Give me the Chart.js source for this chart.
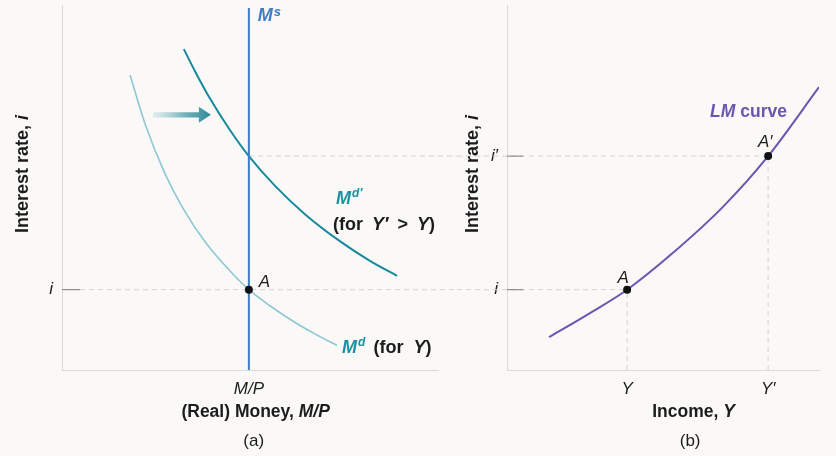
<!DOCTYPE html>
<html>
<head>
<meta charset="utf-8">
<script src="https://cdn.jsdelivr.net/npm/chart.js@4.4.1/dist/chart.umd.min.js"></script>
<style>
    html, body { margin: 0; padding: 0; background: #faf9f7; }
    #wrap { position: relative; width: 836px; height: 456px; }
    #wrap canvas { position: absolute; left: 0; top: 0; }
</style>
</head>
<body>
<div id="wrap">
    <canvas id="moneyChart" width="836" height="456"></canvas>
    <canvas id="lmChart" width="836" height="456"></canvas>
</div>
<script>
// ── Panel (a): money market ──
const MD_X  = [1.81, 2.21, 2.74, 3.27, 3.80, 4.39, 4.97, 5.53, 6.20, 6.76, 7.31];
const MD_Y  = [8.08, 6.74, 5.38, 4.34, 3.52, 2.80, 2.20, 1.76, 1.30, 0.97, 0.68];
const MD2_X = [3.24, 3.54, 3.94, 4.47, 4.97, 5.66, 6.46, 7.39, 8.19, 8.91];
const MD2_Y = [8.79, 8.18, 7.43, 6.57, 5.86, 5.05, 4.27, 3.53, 2.99, 2.58];
const MS_X = 4.97;
const MS_Y = [0, 9.92];
const I_RATE = 2.2;
const I_PRIME = 5.86;
const LEFT_XTICKS = [4.97];
const LEFT_XLABELS = ['M/P'];
const LEFT_YTICKS = [2.2];
const LEFT_YLABELS = ['i'];
const SHIFT_ARROW = [[2.42, 6.99], [3.96, 6.99]];
const LEFT_GUIDE_END = 10.5;
const LEFT_TICK_END = 0.48;

// ── Panel (b): LM curve ──
const LM_X = [1.35, 2.66, 3.85, 5.32, 6.92, 8.37, 10.0];
const LM_Y = [0.90, 1.56, 2.20, 3.21, 4.47, 5.86, 7.75];
const INCOME_TICKS = [3.85, 8.37];
const INCOME_LABELS = ['Y', 'Y\u2032'];
const RATE_TICKS = [2.2, 5.86];
const RATE_LABELS = ['i', 'i\u2032'];
const RIGHT_GUIDE_START = -1.6;
const RIGHT_TICK_END = 0.51;

// ── Style ──
const INK = '#1c1c1c';
const AXIS = '#d9d9d9';
const GUIDE = '#d2d2d2';
const TICKMARK = '#7a7a7a';
const BLUE = '#3d7cc8';
const TEAL = '#17899a';
const TEAL_LIGHT = '#8fc6d3';
const TEAL_TEXT = '#1a90a1';
const PURPLE = '#6a55b1';
const FONT = '"Liberation Sans", Arial, Helvetica, sans-serif';
const f = (style, size) => `${style} ${size}px ${FONT}`;

const pts = (xs, ys) => xs.map((x, i) => ({ x, y: ys[i] }));

function rich(ctx, x, y, parts, align) {
    let w = 0;
    parts.forEach(p => {
        if (p.sp) { w += p.sp; return; }
        ctx.font = p.f;
        w += ctx.measureText(p.t).width;
    });
    let cx = align === 'center' ? x - w / 2 : x;
    ctx.textBaseline = 'alphabetic';
    ctx.textAlign = 'left';
    parts.forEach(p => {
        if (p.sp) { cx += p.sp; return; }
        ctx.font = p.f;
        ctx.fillStyle = p.c || INK;
        ctx.fillText(p.t, cx, y + (p.dy || 0));
        cx += ctx.measureText(p.t).width;
    });
}

function vertTitle(ctx, x, y, parts) {
    ctx.save();
    ctx.translate(x, y);
    ctx.rotate(-Math.PI / 2);
    rich(ctx, 0, 0, parts, 'center');
    ctx.restore();
}

function drawArrow(ctx, a, b) {
    const hw = 2.6, hh = 8, hl = 12;
    const g = ctx.createLinearGradient(a[0], 0, b[0], 0);
    g.addColorStop(0, 'rgba(150, 200, 210, 0.25)');
    g.addColorStop(0.55, 'rgba(80, 160, 172, 0.8)');
    g.addColorStop(1, '#2a8a98');
    ctx.fillStyle = g;
    ctx.beginPath();
    ctx.moveTo(a[0], a[1] - hw);
    ctx.lineTo(b[0] - hl, a[1] - hw);
    ctx.lineTo(b[0] - hl, a[1] - hh);
    ctx.lineTo(b[0], a[1]);
    ctx.lineTo(b[0] - hl, a[1] + hh);
    ctx.lineTo(b[0] - hl, a[1] + hw);
    ctx.lineTo(a[0], a[1] + hw);
    ctx.closePath();
    ctx.fill();
}

function axes(xTicks, xLabels, yTicks, yLabels, yWidth) {
    const tickFont = { family: FONT, size: 17, style: 'italic' };
    return {
        x: {
            type: 'linear', min: 0, max: 10,
            grid: { display: false, drawTicks: false },
            border: { display: true, color: AXIS, width: 1 },
            afterBuildTicks: a => { a.ticks = xTicks.map(v => ({ value: v })); },
            afterFit: a => { a.height = 86; a.paddingLeft = 0; a.paddingRight = 0; },
            ticks: { autoSkip: false, maxRotation: 0, padding: 9, color: INK, font: tickFont,
                     callback: (v, i) => xLabels[i] }
        },
        y: {
            type: 'linear', min: 0, max: 10,
            grid: { display: false, drawTicks: false },
            border: { display: true, color: AXIS, width: 1 },
            afterBuildTicks: a => { a.ticks = yTicks.map(v => ({ value: v })); },
            afterFit: a => { a.width = yWidth; a.paddingTop = 0; a.paddingBottom = 0; },
            ticks: { autoSkip: false, padding: 9, color: INK, font: tickFont,
                     callback: (v, i) => yLabels[i] }
        }
    };
}

const line = (data, color, width, extra) => Object.assign({
    data, showLine: true, borderColor: color, borderWidth: width,
    pointRadius: 0, fill: false
}, extra || {});
const dashed = data => line(data, GUIDE, 1, { borderDash: [5, 4], clip: false });

const baseOptions = (padding, scales) => ({
    responsive: false,
    animation: false,
    devicePixelRatio: 1,
    layout: { padding },
    scales,
    plugins: { legend: { display: false }, tooltip: { enabled: false } },
    events: []
});

// ── Panel (a) notes ──
const moneyNotes = {
    id: 'moneyNotes',
    afterDraw(chart) {
        const { ctx, scales: { x, y }, chartArea: ca } = chart;
        const P = (a, b) => [x.getPixelForValue(a), y.getPixelForValue(b)];
        ctx.save();
        drawArrow(ctx, P(...SHIFT_ARROW[0]), P(...SHIFT_ARROW[1]));

        let [px, py] = P(MS_X, MS_Y[1]);
        rich(ctx, px + 9, py + 13, [
            { t: 'M', f: f('italic bold', 18), c: BLUE },
            { sp: 1 },
            { t: 's', f: f('italic bold', 13), c: BLUE, dy: -5 }
        ]);

        [px, py] = P(7.29, 4.55);
        rich(ctx, px, py, [
            { t: 'M', f: f('italic bold', 18), c: TEAL_TEXT },
            { sp: 1 },
            { t: 'd\u2032', f: f('italic bold', 12), c: TEAL_TEXT, dy: -7 }
        ]);
        [px, py] = P(7.21, 3.84);
        rich(ctx, px, py, [
            { t: '(for', f: f('bold', 18) }, { sp: 9 },
            { t: 'Y\u2032', f: f('italic bold', 18) }, { sp: 9 },
            { t: '>', f: f('bold', 18) }, { sp: 9 },
            { t: 'Y', f: f('italic bold', 18) },
            { t: ')', f: f('bold', 18) }
        ]);

        [px, py] = P(7.45, 0.47);
        rich(ctx, px, py, [
            { t: 'M', f: f('italic bold', 18), c: TEAL_TEXT },
            { sp: 1 },
            { t: 'd', f: f('italic bold', 12), c: TEAL_TEXT, dy: -7 },
            { sp: 8 },
            { t: '(for', f: f('bold', 18) }, { sp: 10 },
            { t: 'Y', f: f('italic bold', 18) },
            { t: ')', f: f('bold', 18) }
        ]);

        [px, py] = P(MS_X, I_RATE);
        rich(ctx, px + 10, py - 3, [{ t: 'A', f: f('italic', 17) }]);

        // axis titles and panel letter
        rich(ctx, x.getPixelForValue(5.15), ca.bottom + 47, [
            { t: '(Real) Money, ', f: f('bold', 17.5) },
            { t: 'M/P', f: f('italic bold', 17.5) }
        ], 'center');
        rich(ctx, x.getPixelForValue(5.1), ca.bottom + 76, [{ t: '(a)', f: f('normal', 17) }], 'center');
        vertTitle(ctx, 28, 174, [
            { t: 'Interest rate, ', f: f('bold', 18) },
            { t: 'i', f: f('italic bold', 18) }
        ]);
        ctx.restore();
    }
};

new Chart(document.getElementById('moneyChart'), {
    type: 'scatter',
    data: {
        datasets: [
            { data: [{ x: MS_X, y: I_RATE }], pointRadius: 4, pointBackgroundColor: '#111',
              pointBorderWidth: 0, showLine: false },
            line(pts([MS_X, MS_X], MS_Y), BLUE, 2),
            line(pts(MD2_X, MD2_Y), TEAL, 2, { cubicInterpolationMode: 'monotone' }),
            line(pts(MD_X, MD_Y), TEAL_LIGHT, 1.6, { cubicInterpolationMode: 'monotone' }),
            line([{ x: 0, y: I_RATE }, { x: LEFT_TICK_END, y: I_RATE }], TICKMARK, 1),
            dashed([{ x: LEFT_TICK_END, y: I_RATE }, { x: LEFT_GUIDE_END, y: I_RATE }]),
            dashed([{ x: MS_X, y: I_PRIME }, { x: LEFT_GUIDE_END, y: I_PRIME }])
        ]
    },
    options: baseOptions({ left: 0, right: 398, top: 5, bottom: 0 },
        axes(LEFT_XTICKS, LEFT_XLABELS, LEFT_YTICKS, LEFT_YLABELS, 62)),
    plugins: [moneyNotes]
});

// ── Panel (b) notes ──
const lmNotes = {
    id: 'lmNotes',
    afterDraw(chart) {
        const { ctx, scales: { x, y }, chartArea: ca } = chart;
        const P = (a, b) => [x.getPixelForValue(a), y.getPixelForValue(b)];
        ctx.save();
        let [px, py] = P(6.51, 6.93);
        rich(ctx, px, py, [
            { t: 'LM', f: f('italic bold', 17.5), c: PURPLE },
            { t: ' curve', f: f('bold', 17.5), c: PURPLE }
        ]);
        [px, py] = P(INCOME_TICKS[1], RATE_TICKS[1]);
        rich(ctx, px - 3, py - 9, [{ t: 'A\u2032', f: f('italic', 17) }], 'center');
        [px, py] = P(INCOME_TICKS[0], RATE_TICKS[0]);
        rich(ctx, px - 4, py - 7, [{ t: 'A', f: f('italic', 17) }], 'center');

        rich(ctx, x.getPixelForValue(5.98), ca.bottom + 47, [
            { t: 'Income, ', f: f('bold', 17.5) },
            { t: 'Y', f: f('italic bold', 17.5) }
        ], 'center');
        rich(ctx, x.getPixelForValue(5.87), ca.bottom + 76, [{ t: '(b)', f: f('normal', 17) }], 'center');
        vertTitle(ctx, 478, 174, [
            { t: 'Interest rate, ', f: f('bold', 18) },
            { t: 'i', f: f('italic bold', 18) }
        ]);
        ctx.restore();
    }
};

new Chart(document.getElementById('lmChart'), {
    type: 'scatter',
    data: {
        datasets: [
            { data: pts(INCOME_TICKS, RATE_TICKS), pointRadius: 4, pointBackgroundColor: '#111',
              pointBorderWidth: 0, showLine: false },
            line(pts(LM_X, LM_Y), PURPLE, 2, { cubicInterpolationMode: 'monotone' }),
            line([{ x: 0, y: RATE_TICKS[0] }, { x: RIGHT_TICK_END, y: RATE_TICKS[0] }], TICKMARK, 1),
            line([{ x: 0, y: RATE_TICKS[1] }, { x: RIGHT_TICK_END, y: RATE_TICKS[1] }], TICKMARK, 1),
            dashed([{ x: RIGHT_GUIDE_START, y: RATE_TICKS[0] }, { x: INCOME_TICKS[0], y: RATE_TICKS[0] }]),
            dashed([{ x: RIGHT_GUIDE_START, y: RATE_TICKS[1] }, { x: INCOME_TICKS[1], y: RATE_TICKS[1] }]),
            dashed([{ x: INCOME_TICKS[0], y: 0 }, { x: INCOME_TICKS[0], y: RATE_TICKS[0] }]),
            dashed([{ x: INCOME_TICKS[1], y: 0 }, { x: INCOME_TICKS[1], y: RATE_TICKS[1] }])
        ]
    },
    options: baseOptions({ left: 467, right: 17, top: 5, bottom: 0 },
        axes(INCOME_TICKS, INCOME_LABELS, RATE_TICKS, RATE_LABELS, 40)),
    plugins: [lmNotes]
});
</script>
</body>
</html>
